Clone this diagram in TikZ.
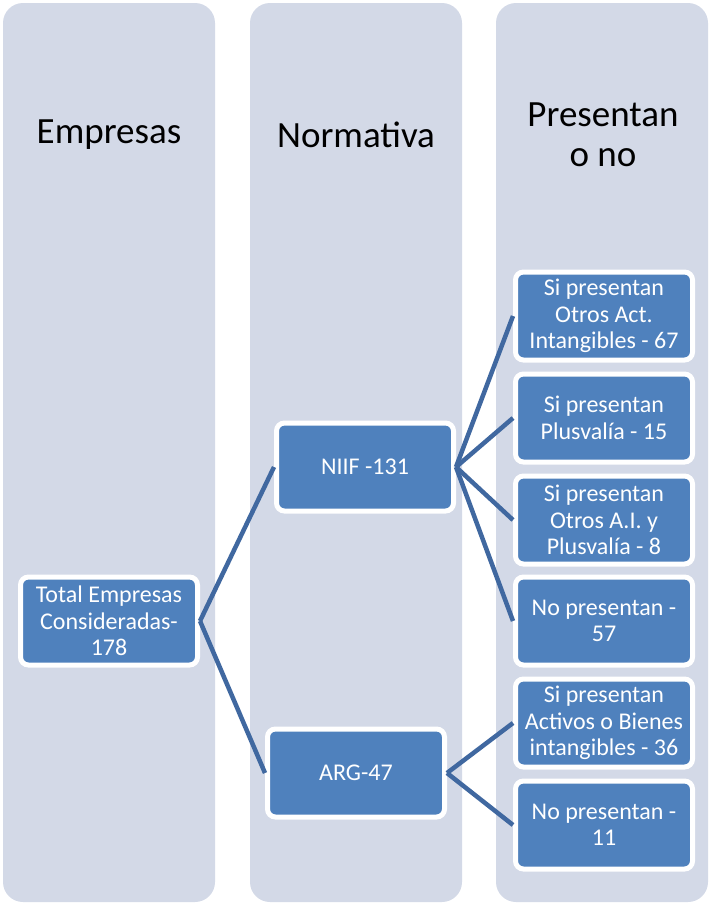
\documentclass[tikz,border=0pt]{standalone}
\usepackage{fontspec}
\setmainfont{Carlito}
\usepackage{xcolor}
\definecolor{col_bg}{RGB}{211,217,231}
\definecolor{box_blue}{RGB}{79,129,189}
\definecolor{line_blue}{RGB}{64,104,160}
\usepackage{tikz}

\begin{document}
\begin{tikzpicture}[x=1pt, y=-1pt,
  column/.style={fill=col_bg, rounded corners=20pt, minimum width=212pt, minimum height=899pt, inner sep=0pt},
  heading/.style={font=\fontsize{37}{40}\selectfont, align=center},
  item/.style={fill=box_blue, draw=white, line width=5pt, rounded corners=8pt, text=white, align=center,
    minimum width=177pt, minimum height=88pt, inner sep=2pt, font=\fontsize{24}{26.5}\selectfont},
  link/.style={draw=line_blue, line width=4.5pt}]
\useasboundingbox (0, 0) rectangle (709, 903);

% columns
\node[column] (col_empresas) at (109, 452.5) {};
\node[column] (col_normativa) at (356, 452.5) {};
\node[column] (col_presentan) at (602, 452.5) {};

\node[heading] (h_empresas) at (109, 135) {Empresas};
\node[heading] (h_normativa) at (356, 135) {Normativa};
\node[heading] (h_presentan) at (603, 135) {Presentan\\o no};

% boxes
\node[item] (total) at (109, 621) {Total Empresas\\Consideradas-\\178};
\node[item] (niif) at (365, 467) {NIIF -131};
\node[item] (arg) at (356, 773) {ARG-47};

\node[item] (niif_a) at (604, 316) {Si presentan\\Otros Act.\\Intangibles - 67};
\node[item] (niif_b) at (604, 418) {Si presentan\\Plusvalía - 15};
\node[item] (niif_c) at (604, 520) {Si presentan\\Otros A.I. y\\Plusvalía - 8};
\node[item] (niif_d) at (604, 621) {No presentan -\\57};
\node[item] (arg_a) at (604, 723) {Si presentan\\Activos o Bienes\\intangibles - 36};
\node[item] (arg_b) at (604, 825) {No presentan -\\11};

% links
\draw[link] (total.east) -- (niif.west);
\draw[link] (total.east) -- (arg.west);
\foreach \n in {niif_a, niif_b, niif_c, niif_d}
  \draw[link] (niif.east) -- (\n.west);
\foreach \n in {arg_a, arg_b}
  \draw[link] (arg.east) -- (\n.west);

\end{tikzpicture}
\end{document}
